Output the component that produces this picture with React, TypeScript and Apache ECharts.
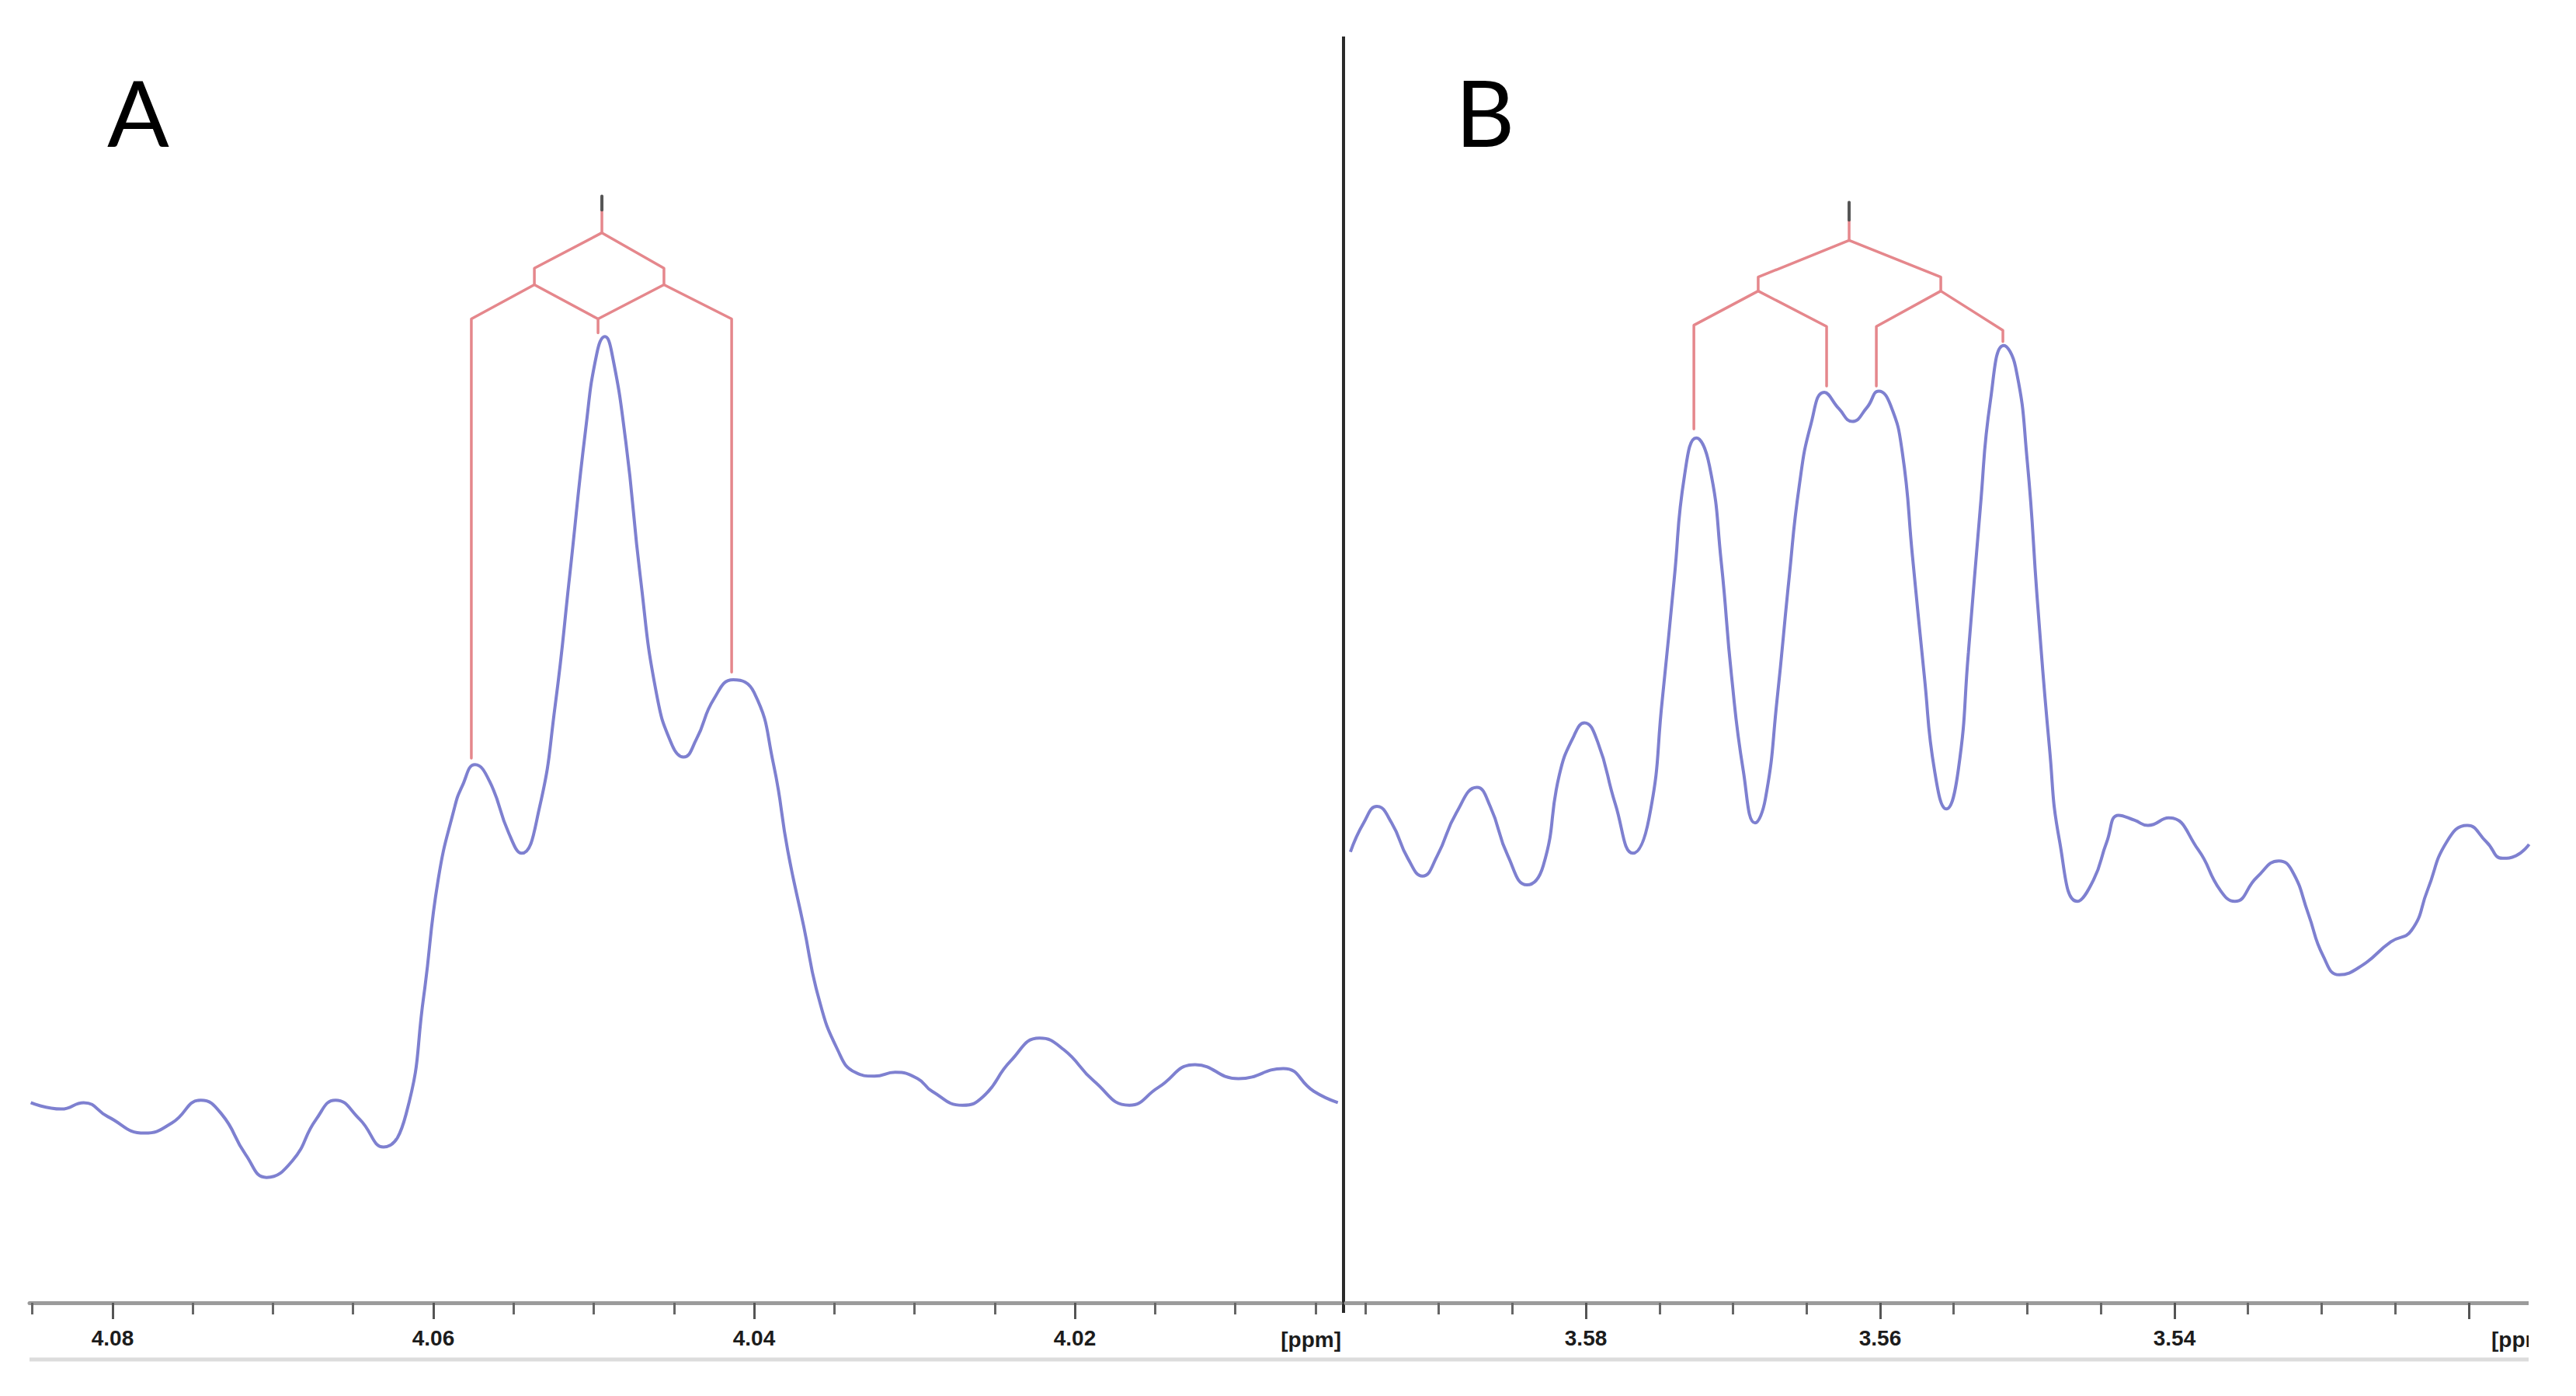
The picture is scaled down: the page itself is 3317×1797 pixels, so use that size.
import React, { useEffect, useRef } from "react";
import * as echarts from "echarts";

// ---------- Panel A (4.00–4.09 ppm) ----------
const ppmA = [4.0851, 4.0832, 4.0818, 4.0803, 4.078, 4.0763, 4.0745, 4.0732, 4.0717, 4.0704,
  4.0688, 4.0673, 4.0661, 4.0646, 4.0631, 4.0617, 4.0606, 4.0597, 4.0587, 4.0582,
  4.0574, 4.0565, 4.0553, 4.0545, 4.0534, 4.0524, 4.0515, 4.0505, 4.0498, 4.0493,
  4.0489, 4.048, 4.0471, 4.0461, 4.0451, 4.0444, 4.0436, 4.0425, 4.0413, 4.04,
  4.0388, 4.0379, 4.0369, 4.036, 4.0348, 4.0337, 4.0325, 4.0312, 4.0298, 4.0289,
  4.027, 4.0257, 4.024, 4.0222, 4.0207, 4.0188, 4.0166, 4.0148, 4.0125, 4.0098,
  4.007, 4.0051, 4.0036];
const intensityA = [15.8, 15.3, 15.8, 14.7, 13.4, 14.2, 16.0, 14.9, 11.7, 9.9,
  11.2, 14.5, 16.0, 14.5, 12.3, 14.9, 24.2, 33.4, 39.0, 40.8,
  42.5, 41.2, 37.1, 35.5, 39.0, 47.2, 57.4, 69.0, 75.0, 76.3,
  75.2, 68.0, 57.4, 48.2, 44.0, 43.1, 44.5, 47.7, 49.2, 48.2,
  42.6, 35.7, 29.7, 24.2, 20.0, 18.2, 17.9, 18.2, 17.7, 16.7,
  15.6, 16.3, 19.1, 20.9, 20.0, 17.5, 15.6, 17.0, 18.8, 17.7,
  18.5, 16.7, 15.8];

// ---------- Panel B (3.51–3.60 ppm) ----------
const ppmB = [3.596, 3.5951, 3.5942, 3.5932, 3.5921, 3.5911, 3.5901, 3.5888, 3.5874, 3.5865,
  3.5853, 3.584, 3.5829, 3.5818, 3.5808, 3.5801, 3.5792, 3.578, 3.5768, 3.5757,
  3.5748, 3.574, 3.5733, 3.5725, 3.5716, 3.5708, 3.5701, 3.5693, 3.5685, 3.5678,
  3.567, 3.5662, 3.5655, 3.5647, 3.5638, 3.5628, 3.5619, 3.5609, 3.5601, 3.5593,
  3.5585, 3.5578, 3.557, 3.5563, 3.5555, 3.5547, 3.554, 3.5532, 3.5525, 3.5516,
  3.5508, 3.55, 3.5493, 3.5485, 3.5478, 3.5466, 3.5455, 3.5446, 3.5438, 3.5427,
  3.5418, 3.5404, 3.5384, 3.5369, 3.5359, 3.5344, 3.5329, 3.532, 3.5309, 3.5299,
  3.5288, 3.5273, 3.5253, 3.5239, 3.5228, 3.5215, 3.5201, 3.5188, 3.5177, 3.5168,
  3.5159];
const intensityB = [35.6, 37.9, 39.2, 37.9, 35.1, 33.7, 35.3, 38.7, 40.7, 39.2,
  35.3, 33.0, 34.5, 41.7, 44.8, 45.8, 44.3, 39.4, 35.5, 38.3,
  47.7, 57.1, 65.3, 68.3, 66.1, 58.5, 49.5, 42.0, 37.9, 39.8,
  47.7, 57.1, 64.5, 69.4, 71.9, 70.6, 69.6, 70.7, 72.0, 70.9,
  67.2, 58.9, 49.5, 42.0, 39.0, 42.0, 51.4, 62.7, 71.3, 75.6,
  73.9, 66.4, 55.2, 43.9, 36.4, 31.7, 33.4, 36.4, 38.5, 38.1,
  37.7, 38.3, 35.8, 32.6, 31.7, 33.6, 34.9, 34.1, 30.7, 27.4,
  25.9, 26.6, 28.5, 29.4, 32.6, 36.4, 37.7, 36.4, 35.1, 35.3,
  36.2];

// ---------- Axis ranges and ticks ----------
const rangeA = [4.00344, 4.08518];
const rangeB = [3.51588, 3.59631];
const minorTicksA = [4.085, 4.08, 4.075, 4.07, 4.065, 4.06, 4.055, 4.05, 4.045, 4.04, 4.035, 4.03, 4.025, 4.02, 4.015, 4.01, 4.005];
const majorTicksA = [4.08, 4.06, 4.04, 4.02];
const labelTicksA = [4.08, 4.06, 4.04, 4.02];
const minorTicksB = [3.595, 3.59, 3.585, 3.58, 3.575, 3.57, 3.565, 3.56, 3.555, 3.55, 3.545, 3.54, 3.535, 3.53, 3.525, 3.52];
const majorTicksB = [3.58, 3.56, 3.54, 3.52];
const labelTicksB = [3.58, 3.56, 3.54];
const unitLabel = "[ppm]";
const panelLabels = ["A", "B"];

// ---------- Multiplet trees (ppm, intensity) ----------
const treeStubA = [[4.04949, 87.4], [4.04949, 86.3]];
const treeA = [
  [[4.04949, 86.3], [4.04949, 84.5]],
  [[4.0537, 80.4], [4.0537, 81.7], [4.04949, 84.5], [4.04562, 81.7], [4.04562, 80.4]],
  [[4.05763, 43.0], [4.05763, 77.7], [4.0537, 80.4], [4.04973, 77.7], [4.04973, 76.6]],
  [[4.04973, 77.7], [4.04562, 80.4], [4.0414, 77.7], [4.0414, 49.8]],
];
const treeStubB = [[3.56211, 86.9], [3.56211, 85.5]];
const treeB = [
  [[3.56211, 85.5], [3.56211, 83.9]],
  [[3.56829, 79.9], [3.56829, 81.0], [3.56211, 83.9], [3.55588, 81.0], [3.55588, 79.9]],
  [[3.57266, 69.0], [3.57266, 77.2], [3.56829, 79.9], [3.56364, 77.1], [3.56364, 72.4]],
  [[3.56026, 72.4], [3.56026, 77.1], [3.55588, 79.9], [3.55166, 76.8], [3.55166, 75.9]],
];

const W = 3317;
const H = 1797;
const SPEC = "#7e80d0";
const TREE = "#e5878c";
const labelFont = { fontFamily: "Liberation Sans, Arial, sans-serif", fontWeight: "bold" as const, fontSize: 28, color: "#1c1c1c" };

function minorAxis(gridIndex: number, range: number[], ticks: number[]) {
  return {
    type: "value", gridIndex, min: range[0], max: range[1], inverse: true,
    axisLine: { show: true, onZero: false, lineStyle: { color: "#9b9b9b", width: 5 } },
    axisTick: { show: true, customValues: ticks, length: 15, lineStyle: { color: "#666", width: 3 } },
    axisLabel: { show: false },
    splitLine: { show: false },
  };
}
function majorAxis(gridIndex: number, range: number[], ticks: number[], labels: number[]) {
  return {
    type: "value", gridIndex, min: range[0], max: range[1], inverse: true,
    axisLine: { show: false, onZero: false },
    axisTick: { show: true, customValues: ticks, length: 21, lineStyle: { color: "#555", width: 3 } },
    axisLabel: { show: true, customValues: labels, margin: 31, formatter: (v: number) => v.toFixed(2), ...labelFont },
    splitLine: { show: false },
  };
}

export default function App() {
  const ref = useRef<HTMLDivElement>(null);
  useEffect(() => {
    if (!ref.current) return;
    const chart = echarts.init(ref.current, undefined, { renderer: "svg" });
    const gridA = { left: 38, right: W - 1726, top: 47, bottom: H - 1677 };
    const gridB = { left: 1733, right: W - 3257, top: 47, bottom: H - 1677 };
    const yAx = (i: number) => ({ type: "value", gridIndex: i, min: 0, max: 100, show: false });
    const treeSeries = (paths: number[][][], xi: number, color: string, width: number) => ({
      type: "lines", coordinateSystem: "cartesian2d", xAxisIndex: xi, yAxisIndex: xi, polyline: true,
      silent: true, z: 3,
      lineStyle: { color, width, opacity: 1, cap: "round", join: "round" },
      data: paths.map((p) => ({ coords: p })),
    });
    chart.setOption({
      animation: false,
      backgroundColor: "#ffffff",
      grid: [gridA, gridA, gridB, gridB],
      xAxis: [
        minorAxis(0, rangeA, minorTicksA),
        majorAxis(1, rangeA, majorTicksA, labelTicksA),
        minorAxis(2, rangeB, minorTicksB),
        majorAxis(3, rangeB, majorTicksB, labelTicksB),
      ],
      yAxis: [yAx(0), yAx(1), yAx(2), yAx(3)],
      series: [
        {
          type: "line", xAxisIndex: 0, yAxisIndex: 0, smooth: 0.5, symbol: "none",
          lineStyle: { color: SPEC, width: 4 }, data: ppmA.map((p, i) => [p, intensityA[i]]),
        },
        {
          type: "line", xAxisIndex: 2, yAxisIndex: 2, smooth: 0.5, symbol: "none",
          lineStyle: { color: SPEC, width: 4 }, data: ppmB.map((p, i) => [p, intensityB[i]]),
        },
        treeSeries(treeA, 0, TREE, 3.5),
        treeSeries([treeStubA], 0, "#555555", 4),
        treeSeries(treeB, 2, TREE, 3.5),
        treeSeries([treeStubB], 2, "#555555", 4),
      ],
      graphic: [
        { type: "text", left: 138, top: 84, style: { text: panelLabels[0], fontFamily: "Lato, sans-serif", fontSize: 118, fill: "#000" } },
        { type: "text", left: 1874, top: 84, style: { text: panelLabels[1], fontFamily: "Lato, sans-serif", fontSize: 118, fill: "#000" } },
        { type: "line", shape: { x1: 1730, y1: 47, x2: 1730, y2: 1690 }, style: { stroke: "#2a2a2a", lineWidth: 4 } },
        { type: "line", shape: { x1: 38, y1: 1750, x2: 3257, y2: 1750 }, style: { stroke: "#dcdcdc", lineWidth: 5 } },
        { type: "text", x: 1727, y: 1724, style: { text: unitLabel, align: "right", verticalAlign: "middle", ...labelFont, fill: "#1c1c1c" } },
        { type: "text", x: 3208, y: 1724, z: 10, style: { text: unitLabel, align: "left", verticalAlign: "middle", ...labelFont, fill: "#1c1c1c" } },
        { type: "rect", z: 20, shape: { x: 3256, y: 1600, width: 62, height: 197 }, style: { fill: "#ffffff" } },
      ],
    });
    return () => chart.dispose();
  }, []);
  return <div ref={ref} style={{ position: "fixed", left: 0, top: 0, width: W, height: H, background: "#fff" }} />;
}
